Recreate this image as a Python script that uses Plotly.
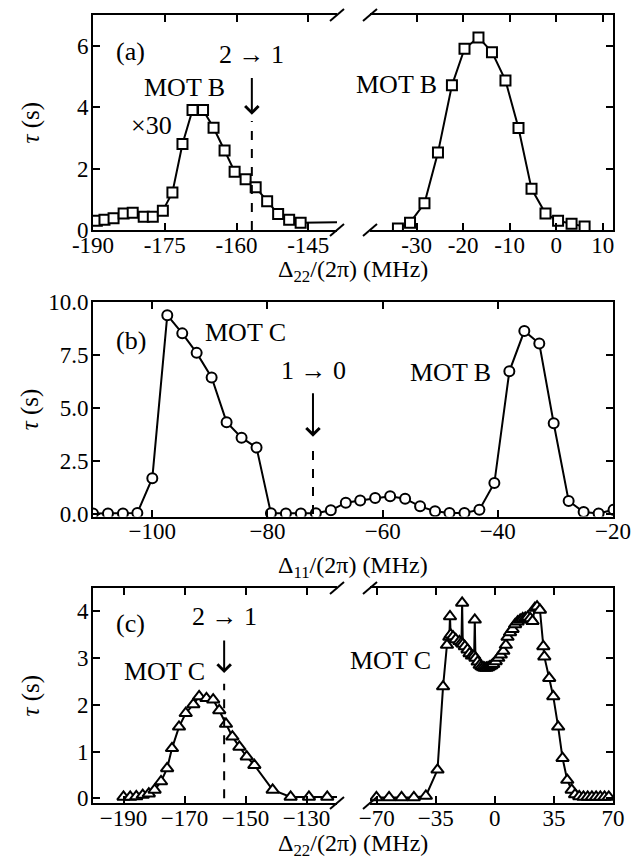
import plotly.graph_objects as go

W, H = 644, 861
FONT = "Liberation Serif"

# ---------------- data ----------------
# panel (a) left (x30 scaled), squares
a_left_x = [-189.2, -187.6, -185.7, -183.6, -181.7, -179.4, -177.5, -175.4, -173.4, -171.3,
            -169.2, -167.0, -164.8, -162.5, -160.4, -158.1, -156.0, -153.6, -151.3, -149.0,
            -146.6, -137.0]
a_left_y = [0.30, 0.33, 0.38, 0.54, 0.56, 0.43, 0.43, 0.63, 1.22, 2.80,
            3.91, 3.91, 3.33, 2.59, 1.90, 1.65, 1.39, 0.94, 0.52, 0.33,
            0.24, 0.26]
# panel (a) right
a_right_x = [-34.0, -31.4, -28.3, -25.4, -22.4, -19.7, -16.7, -13.8, -10.9, -8.1,
             -5.3, -2.3, 0.4, 3.3, 6.1]
a_right_y = [0.05, 0.24, 0.87, 2.52, 4.71, 5.90, 6.27, 5.79, 4.87, 3.32,
             1.34, 0.54, 0.30, 0.20, 0.11]

# panel (b), circles
b_x = [-110.3, -107.7, -105.1, -102.6, -100.0, -97.4, -94.8, -92.3, -89.7, -87.1,
       -84.5, -81.9, -79.4, -76.8, -74.2, -71.6, -69.0, -66.4, -63.9, -61.3,
       -58.7, -56.1, -53.5, -50.9, -48.4, -45.8, -43.2, -40.6, -38.0, -35.4,
       -32.8, -30.3, -27.7, -25.1, -22.5, -19.9]
b_y = [0.02, 0.02, 0.02, 0.05, 1.69, 9.38, 8.52, 7.60, 6.44, 4.33,
       3.60, 3.13, 0.03, 0.02, 0.02, 0.03, 0.17, 0.53, 0.64, 0.75,
       0.83, 0.72, 0.36, 0.13, 0.05, 0.05, 0.20, 1.46, 6.73, 8.63,
       8.04, 4.28, 0.61, 0.09, 0.02, 0.20]

# panel (c) left, triangles
c_left_x = [-190.0, -187.8, -185.8, -183.7, -181.7, -179.8, -177.7, -175.7, -174.1, -171.8,
            -169.6, -167.1, -165.2, -162.8, -160.6, -158.6, -156.4, -154.3, -152.0, -149.6,
            -147.1, -141.1, -135.2, -129.2, -123.2, -117.0]
c_left_y = [0.03, 0.03, 0.04, 0.07, 0.10, 0.18, 0.36, 0.64, 1.07, 1.53,
            1.82, 2.01, 2.18, 2.14, 2.11, 1.88, 1.59, 1.32, 1.10, 0.89,
            0.71, 0.18, 0.03, 0.03, 0.03, 0.03]
# panel (c) right
c_right_x = [-70.2, -62.7, -55.3, -48.0, -40.9, -34.0, -30.7, -28.4, -27.0, -26.6,
             -26.2, -24.8, -23.2, -21.0, -19.8, -19.4, -19.0, -17.8, -16.2, -15.0,
             -13.6, -12.3, -11.9, -11.5, -10.2, -9.0, -8.0, -7.0, -6.0, -5.0,
             -4.0, -3.0, -2.0, -1.0, 0.5, 2.0, 3.5, 5.0, 6.5, 7.5,
             9.0, 10.5, 12.0, 13.5, 15.0, 16.5, 18.0, 19.5, 21.0, 22.3,
             23.7, 25.0, 26.7, 28.7, 29.3, 32.2, 34.6, 37.5, 40.1, 42.9,
             45.5, 47.5, 50.0, 52.5, 55.0, 57.5, 60.0, 62.5, 65.0, 67.5]
c_right_y = [0.02, 0.02, 0.02, 0.02, 0.05, 0.61, 2.39, 3.28, 3.45, 3.89,
             3.50, 3.46, 3.40, 3.36, 3.33, 4.18, 3.30, 3.25, 3.18, 3.10,
             3.05, 3.05, 3.82, 3.00, 2.92, 2.85, 2.82, 2.80, 2.79, 2.79,
             2.80, 2.82, 2.84, 2.87, 2.93, 3.00, 3.07, 3.15, 3.28, 3.45,
             3.55, 3.62, 3.72, 3.78, 3.82, 3.85, 3.86, 3.88, 3.85, 3.79,
             4.07, 4.10, 4.03, 3.25, 3.03, 2.57, 2.18, 1.53, 0.86, 0.39,
             0.18, 0.08, 0.04, 0.03, 0.03, 0.03, 0.03, 0.03, 0.03, 0.03]

# transitions: x position, dashed-line top, arrow tip, arrow tail
a_trans = [-156.8, 3.55, 3.75, 5.0]
b_trans = [-72.1, 3.0, 3.64, 5.77]
c_trans = [-157.0, 2.45, 2.68, 3.41]

# tick values / labels
a_left_ticks = [-190, -175, -160, -145]
a_left_text = ["-190", "-175", "-160", "-145"]
a_right_ticks = [-30, -20, -10, 0, 10]
a_right_text = ["-30", "-20", "-10", "0", "10"]
a_yticks = [0, 2, 4, 6]
b_xticks = [-100, -80, -60, -40, -20]
b_xtext = ["\u2212100", "\u221280", "\u221260", "\u221240", "\u221220"]
b_yticks = [0, 2.5, 5, 7.5, 10]
b_ytext = ["0.0", "2.5", "5.0", "7.5", "10.0"]
c_left_ticks = [-190, -170, -150, -130]
c_left_text = ["\u2212190", "\u2212170", "\u2212150", "\u2212130"]
c_right_ticks = [-70, -35, 0, 35, 70]
c_right_text = ["\u221270", "\u221235", "0", "35", "70"]
c_yticks = [0, 1, 2, 3, 4]

# ---------------- layout helpers ----------------
def px(x, y):
    return x / W, 1 - y / H

def xdom(x0, x1):
    return [x0 / W, x1 / W]

def ydom(top, bottom):
    return [1 - bottom / H, 1 - top / H]

LX0, LX1 = 93, 337
RX0, RX1 = 370, 613
A_T, A_B = 15, 230
B_T, B_B = 302, 516.5
C_T, C_B = 588, 803

fig = go.Figure()

line_style = dict(color="black", width=2)

def add(x, y, xa, ya, symbol, size=10):
    fig.add_trace(go.Scatter(
        x=x, y=y, xaxis=xa, yaxis=ya, mode="lines+markers",
        line=line_style,
        marker=dict(symbol=symbol, size=size, color="white",
                    line=dict(color="black", width=2)),
        showlegend=False, hoverinfo="skip"))

add(a_left_x, a_left_y, "x", "y", "square")
add(a_right_x, a_right_y, "x2", "y2", "square")
add(b_x, b_y, "x3", "y3", "circle")
add(c_left_x, c_left_y, "x4", "y4", "triangle-up", 11)
add(c_right_x, c_right_y, "x5", "y5", "triangle-up", 11)

tickfont = dict(family=FONT, size=23, color="black")

def xax(domain, rng, tv, tt, anchor, labels=True):
    return dict(domain=domain, range=rng, anchor=anchor, tickvals=tv, ticktext=tt,
                ticks="inside", ticklen=7, tickwidth=2, tickcolor="black",
                showline=True, linecolor="black", linewidth=2, mirror="ticks",
                showgrid=False, zeroline=False, tickfont=tickfont,
                ticklabelstandoff=-7,
                showticklabels=labels, fixedrange=True)

def yax(domain, rng, tv, tt, anchor, side="left", labels=True):
    return dict(domain=domain, range=rng, anchor=anchor, tickvals=tv, ticktext=tt,
                ticks="inside", ticklen=7, tickwidth=2, tickcolor="black",
                showline=True, linecolor="black", linewidth=2, mirror=False,
                side=side, showgrid=False, zeroline=False, tickfont=tickfont,
                ticklabelstandoff=-2,
                showticklabels=labels, fixedrange=True)

fig.update_layout(
    width=W, height=H,
    margin=dict(l=0, r=0, t=0, b=0, autoexpand=False),
    paper_bgcolor="white", plot_bgcolor="white",
    font=dict(family=FONT, color="black"),
    xaxis=xax(xdom(LX0, LX1), [-190, -139], a_left_ticks, a_left_text, "y"),
    yaxis=yax(ydom(A_T, A_B), [0, 7], a_yticks, [str(v) for v in a_yticks], "x"),
    xaxis2=xax(xdom(RX0, RX1), [-40, 12.2], a_right_ticks, a_right_text, "y2"),
    yaxis2=yax(ydom(A_T, A_B), [0, 7], a_yticks, [str(v) for v in a_yticks], "x2",
               side="right", labels=False),
    xaxis3=xax(xdom(LX0, RX1), [-110.3, -20], b_xticks, b_xtext, "y3"),
    yaxis3=dict(yax(ydom(B_T, B_B), [-0.12, 10], b_yticks, b_ytext, "x3"), mirror="ticks"),
    xaxis4=xax(xdom(LX0, LX1), [-200, -120], c_left_ticks, c_left_text, "y4"),
    yaxis4=yax(ydom(C_T, C_B), [-0.1, 4.5], c_yticks, [str(v) for v in c_yticks], "x4"),
    xaxis5=xax(xdom(RX0, RX1), [-74, 70], c_right_ticks, c_right_text, "y5"),
    yaxis5=yax(ydom(C_T, C_B), [-0.1, 4.5], c_yticks, [str(v) for v in c_yticks], "x5",
               side="right", labels=False),
)

# transition dashed lines + arrows
for trans, xr, yr in [(a_trans, "x", "y"), (b_trans, "x3", "y3"), (c_trans, "x4", "y4")]:
    xv, ytop, tip, tail = trans
    fig.add_shape(type="line", xref=xr, yref=yr, x0=xv, x1=xv, y0=0, y1=ytop,
                  line=dict(color="black", width=2, dash="dash"))
    fig.add_annotation(x=xv, y=tip, ax=xv, ay=tail, xref=xr, yref=yr,
                       axref=xr, ayref=yr, text="", showarrow=True,
                       arrowhead=4, arrowsize=1.3, arrowwidth=2, arrowcolor="black")

# axis-break slashes
def slash(cx, cy):
    x0, y0 = px(cx - 7, cy + 6)
    x1, y1 = px(cx + 7, cy - 6)
    fig.add_shape(type="line", xref="paper", yref="paper", x0=x0, y0=y0, x1=x1, y1=y1,
                  line=dict(color="black", width=2))

for top, bot in [(A_T, A_B), (C_T, C_B)]:
    for cx in (LX1, RX0):
        slash(cx, top)
        slash(cx, bot)

# texts
def text(x, y, s, size=24, angle=0):
    xp, yp = px(x, y)
    fig.add_annotation(x=xp, y=yp, xref="paper", yref="paper", text=s, showarrow=False,
                       xanchor="center", yanchor="middle", textangle=angle,
                       font=dict(family=FONT, size=size, color="black"))

TS = 26
# panel (a)
text(130, 52, "(a)", TS)
text(251, 54, "2 \u2192 1", TS)
text(184, 87, "MOT B", TS)
text(151, 125, "\u00d730", TS)
text(396, 85, "MOT B", TS)
# panel (b)
text(131, 340, "(b)", TS)
text(245, 333, "MOT C", TS)
text(313, 370, "1 \u2192 0", TS)
text(450, 372, "MOT B", TS)
# panel (c)
text(130, 623, "(c)", TS)
text(224, 616, "2 \u2192 1", TS)
text(164, 671, "MOT C", TS)
text(391, 660, "MOT C", TS)

# axis titles
XT = 24
text(353, 271, "\u0394<sub>22</sub>/(2\u03c0) (MHz)", XT)
text(353, 567, "\u0394<sub>11</sub>/(2\u03c0) (MHz)", XT)
text(353, 845, "\u0394<sub>22</sub>/(2\u03c0) (MHz)", XT)
for yc in [(A_T + A_B) / 2, (B_T + B_B) / 2, (C_T + C_B) / 2]:
    text(30, yc, "<i>\u03c4</i> (s)", 25, angle=-90)

fig.write_html("out.html", config={"displayModeBar": False},
               post_script="document.body.style.margin='0px';document.body.style.overflow='hidden';")
